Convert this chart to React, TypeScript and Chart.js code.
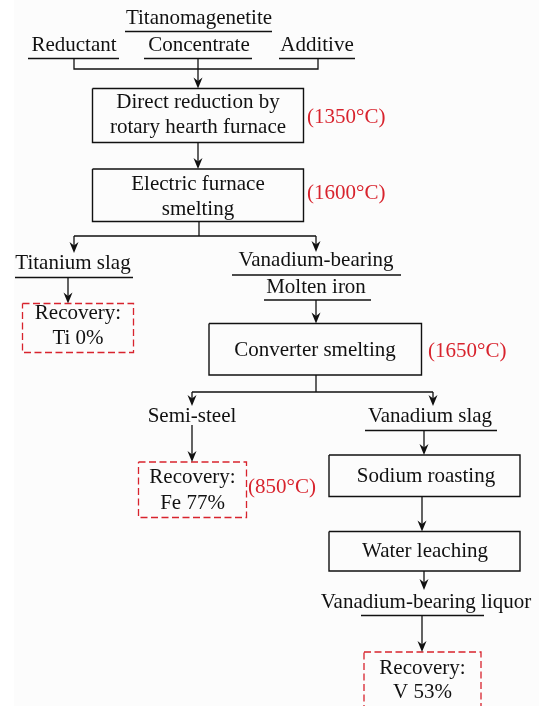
import React, { useEffect, useRef } from "react";
import { Chart, registerables } from "chart.js";

Chart.register(...registerables);

// ---------- content ----------
const feedTitle = "Titanomagenetite";
const feedInputs = ["Reductant", "Concentrate", "Additive"];
const processSteps = [
  ["Direct reduction by", "rotary hearth furnace"],
  ["Electric furnace", "smelting"],
  ["Converter smelting"],
  ["Sodium roasting"],
  ["Water leaching"],
];
const temperatures = ["(1350°C)", "(1600°C)", "(1650°C)", "(850°C)"];
const intermediates = [
  ["Titanium slag"],
  ["Vanadium-bearing", "Molten iron"],
  ["Semi-steel"],
  ["Vanadium slag"],
  ["Vanadium-bearing liquor"],
];
const recoveryElements = ["Ti", "Fe", "V"];
const recoveryPercent = [0, 77, 53];

// ---------- layout (data units = px on a 539 x 706 plane) ----------
const W = 539;
const H = 706;
const FONT = '21px "Liberation Serif", "Times New Roman", serif';
const BLACK = "#111111";
const RED = "#d8232d";

type Pt = [number, number];

const stepBoxes: [number, number, number, number][] = [
  [92.5, 88.5, 303.5, 142.5],
  [92.5, 169, 303.5, 221.5],
  [209, 323.5, 421.5, 375],
  [329, 455, 520, 496.5],
  [329, 531.5, 520, 571],
];
const stepTextY = [[102, 127], [184, 209], [350], [476], [551]];
const stepTextX = [198, 198, 315, 426, 425];

const recoveryBoxes: [number, number, number, number][] = [
  [22.5, 303.5, 133.5, 352.5],
  [138.5, 462, 246.5, 517.5],
  [364, 652, 481, 712],
];
const recoveryTextY = [[313, 338], [477, 503], [668, 692]];

const tempPos: Pt[] = [[307, 117], [307, 193], [428, 351], [248, 487]];

const feedTitlePos: Pt = [199, 18];
const feedInputPos: Pt[] = [[74, 45], [199, 45], [317, 45]];
const interPos: Pt[][] = [
  [[73, 263]],
  [[316, 260], [316, 287]],
  [[192, 416]],
  [[430, 416]],
  [[426, 602]],
];

const underlines: [number, number, number][] = [
  [31.5, 125, 272],
  [58.5, 28, 119],
  [58.5, 144, 252],
  [58.5, 279, 355],
  [277.5, 15, 133],
  [275, 232, 401],
  [300, 264, 371],
  [430.5, 365, 497],
  [615.5, 361, 484],
];

const connectors: Pt[][] = [
  [[74, 58.5], [74, 69], [318, 69], [318, 58.5]],
  [[199, 221.5], [199, 236]],
  [[74, 236], [316, 236]],
  [[316, 375], [316, 392]],
  [[192, 392], [433, 392]],
];

// arrows: x, from y, to y (tip)
const arrows: [number, number, number][] = [
  [198, 58.5, 88.5],
  [198, 142.5, 169],
  [74, 236, 253],
  [316, 236, 252],
  [68, 277.5, 303.5],
  [316, 300, 323.5],
  [192, 392, 406],
  [433, 392, 406],
  [192, 425, 462],
  [424, 430.5, 455],
  [422, 496.5, 531.5],
  [424, 571, 590],
  [422, 615.5, 652],
];

function rectPts(b: [number, number, number, number]) {
  const [x1, y1, x2, y2] = b;
  return [
    { x: x1, y: y1 },
    { x: x2, y: y1 },
    { x: x2, y: y2 },
    { x: x1, y: y2 },
    { x: x1, y: y1 },
  ];
}

function buildDatasets() {
  const ds: any[] = [];
  const base = {
    showLine: true,
    pointRadius: 0,
    pointHoverRadius: 0,
    tension: 0,
    fill: false,
    clip: false,
  };
  stepBoxes.forEach((b) =>
    ds.push({ ...base, data: rectPts(b), borderColor: BLACK, borderWidth: 1.4 })
  );
  recoveryBoxes.forEach((b) =>
    ds.push({
      ...base,
      data: rectPts(b),
      borderColor: RED,
      borderWidth: 1.3,
      borderDash: [7, 3.5],
    })
  );
  underlines.forEach(([y, x1, x2]) =>
    ds.push({
      ...base,
      data: [
        { x: x1, y },
        { x: x2, y },
      ],
      borderColor: BLACK,
      borderWidth: 1.3,
    })
  );
  connectors.forEach((c) =>
    ds.push({
      ...base,
      data: c.map(([x, y]) => ({ x, y })),
      borderColor: BLACK,
      borderWidth: 1.3,
    })
  );
  arrows.forEach(([x, y1, y2]) =>
    ds.push({
      ...base,
      data: [
        { x, y: y1 },
        { x, y: y2 - 6 },
      ],
      borderColor: BLACK,
      borderWidth: 1.3,
    })
  );
  return ds;
}

const overlayPlugin = {
  id: "flowOverlay",
  beforeDraw(chart: any) {
    const { ctx } = chart;
    ctx.save();
    ctx.fillStyle = "#ffffff";
    ctx.fillRect(0, 0, chart.width, chart.height);
    ctx.fillStyle = "#fcfcfc";
    ctx.fillRect(14, 0, chart.width - 14, chart.height);
    ctx.restore();
  },
  afterDatasetsDraw(chart: any) {
    const { ctx } = chart;
    const sx = chart.scales.x;
    const sy = chart.scales.y;
    const px = (v: number) => sx.getPixelForValue(v);
    const py = (v: number) => sy.getPixelForValue(v);
    ctx.save();
    ctx.font = FONT;
    ctx.textBaseline = "middle";

    const text = (s: string, x: number, y: number, color = BLACK, align: CanvasTextAlign = "center") => {
      ctx.fillStyle = color;
      ctx.textAlign = align;
      ctx.fillText(s, px(x), py(y));
    };

    text(feedTitle, feedTitlePos[0], feedTitlePos[1]);
    feedInputs.forEach((s, i) => text(s, feedInputPos[i][0], feedInputPos[i][1]));

    processSteps.forEach((lines, i) =>
      lines.forEach((s, j) => text(s, stepTextX[i], stepTextY[i][j]))
    );

    intermediates.forEach((lines, i) =>
      lines.forEach((s, j) => text(s, interPos[i][j][0], interPos[i][j][1]))
    );

    recoveryElements.forEach((el, i) => {
      const b = recoveryBoxes[i];
      const cx = (b[0] + b[2]) / 2;
      text("Recovery:", cx, recoveryTextY[i][0]);
      text(`${el} ${recoveryPercent[i]}%`, cx, recoveryTextY[i][1]);
    });

    temperatures.forEach((s, i) => text(s, tempPos[i][0], tempPos[i][1], RED, "left"));

    // arrowheads
    ctx.fillStyle = BLACK;
    arrows.forEach(([x, , y2]) => {
      const tx = px(x);
      const ty = py(y2);
      ctx.beginPath();
      ctx.moveTo(tx, ty);
      ctx.lineTo(tx - 4.5, ty - 11);
      ctx.lineTo(tx, ty - 7.5);
      ctx.lineTo(tx + 4.5, ty - 11);
      ctx.closePath();
      ctx.fill();
    });
    ctx.restore();
  },
};

export default function App() {
  const ref = useRef<HTMLCanvasElement | null>(null);
  useEffect(() => {
    document.body.style.margin = "0";
    if (!ref.current) return;
    const chart = new Chart(ref.current, {
      type: "scatter",
      data: { datasets: buildDatasets() },
      options: {
        animation: false,
        responsive: false,
        maintainAspectRatio: false,
        devicePixelRatio: 1,
        layout: { padding: 0 },
        events: [],
        plugins: { legend: { display: false }, tooltip: { enabled: false } },
        scales: {
          x: { type: "linear", min: 0, max: W, display: false },
          y: { type: "linear", min: 0, max: H, reverse: true, display: false },
        },
      },
      plugins: [overlayPlugin],
    } as any);
    return () => chart.destroy();
  }, []);
  return (
    <div style={{ width: W, height: H }}>
      <canvas ref={ref} width={W} height={H} style={{ display: "block" }} />
    </div>
  );
}
